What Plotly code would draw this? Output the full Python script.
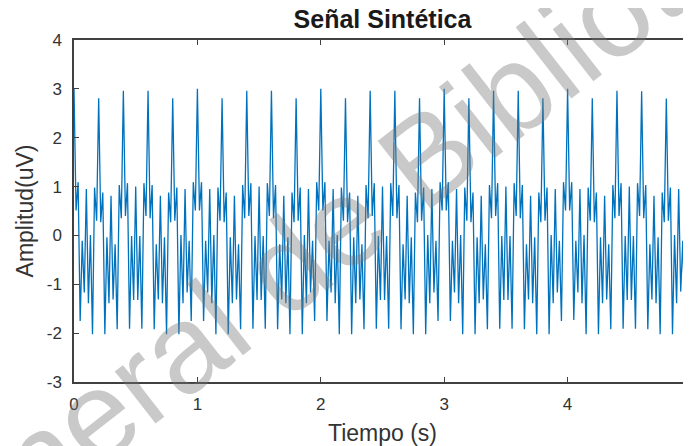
import plotly.graph_objects as go

# Sampling rate of the synthetic signal (Hz)
fs = 60

# Amplitude samples (uV), one second per list
segundo_1 = [3.00, 0.51, 1.09, -1.75, -0.11, -1.17, 0.95, -1.39, 0.01, -2.02,
             0.98, 0.30, 2.81, 0.27, 0.88, -2.02, -0.04, -1.39, 0.81, -1.31,
             -0.18, -1.92, 1.03, 0.35, 2.96, 0.40, 1.07, -1.91, -0.01, -1.32,
             1.00, -1.32, -0.01, -1.91, 1.07, 0.40, 2.96, 0.35, 1.03, -1.92,
             -0.18, -1.31, 0.81, -1.39, -0.04, -2.02, 0.88, 0.27, 2.81, 0.30,
             0.98, -2.02, 0.01, -1.39, 0.95, -1.17, -0.11, -1.75, 1.09, 0.51]
segundo_2 = [3.00, 0.51, 1.09, -1.75, -0.11, -1.17, 0.95, -1.39, 0.01, -2.02,
             0.98, 0.30, 2.81, 0.27, 0.88, -2.02, -0.04, -1.39, 0.81, -1.31,
             -0.18, -1.92, 1.03, 0.35, 2.96, 0.40, 1.07, -1.91, -0.01, -1.32,
             1.00, -1.32, -0.01, -1.91, 1.07, 0.40, 2.96, 0.35, 1.03, -1.92,
             -0.18, -1.31, 0.81, -1.39, -0.04, -2.02, 0.88, 0.27, 2.81, 0.30,
             0.98, -2.02, 0.01, -1.39, 0.95, -1.17, -0.11, -1.75, 1.09, 0.51]
segundo_3 = [3.00, 0.51, 1.09, -1.75, -0.11, -1.17, 0.95, -1.39, 0.01, -2.02,
             0.98, 0.30, 2.81, 0.27, 0.88, -2.02, -0.04, -1.39, 0.81, -1.31,
             -0.18, -1.92, 1.03, 0.35, 2.96, 0.40, 1.07, -1.91, -0.01, -1.32,
             1.00, -1.32, -0.01, -1.91, 1.07, 0.40, 2.96, 0.35, 1.03, -1.92,
             -0.18, -1.31, 0.81, -1.39, -0.04, -2.02, 0.88, 0.27, 2.81, 0.30,
             0.98, -2.02, 0.01, -1.39, 0.95, -1.17, -0.11, -1.75, 1.09, 0.51]
segundo_4 = [3.00, 0.51, 1.09, -1.75, -0.11, -1.17, 0.95, -1.39, 0.01, -2.02,
             0.98, 0.30, 2.81, 0.27, 0.88, -2.02, -0.04, -1.39, 0.81, -1.31,
             -0.18, -1.92, 1.03, 0.35, 2.96, 0.40, 1.07, -1.91, -0.01, -1.32,
             1.00, -1.32, -0.01, -1.91, 1.07, 0.40, 2.96, 0.35, 1.03, -1.92,
             -0.18, -1.31, 0.81, -1.39, -0.04, -2.02, 0.88, 0.27, 2.81, 0.30,
             0.98, -2.02, 0.01, -1.39, 0.95, -1.17, -0.11, -1.75, 1.09, 0.51]
segundo_5 = [3.00, 0.51, 1.09, -1.73, -0.11, -1.17, 0.95, -1.39, 0.01, -2.02,
             0.98, 0.30, 2.81, 0.27, 0.88, -2.02, -0.04, -1.39, 0.81, -1.31,
             -0.18, -1.92, 1.03, 0.35, 2.96, 0.40, 1.07, -1.91, -0.01, -1.32,
             1.00, -1.32, -0.01, -1.91, 1.07, 0.40, 2.95, 0.35, 1.03, -1.92,
             -0.18, -1.31, 0.81, -1.39, -0.04, -2.02, 0.88, 0.27, 2.80, 0.30,
             0.98, -2.02, 0.01, -1.39, 0.95, -1.15, -0.11, -1.73, 1.09, 0.47]
ultimo = [3.00]

amplitud = segundo_1 + segundo_2 + segundo_3 + segundo_4 + segundo_5 + ultimo
tiempo = [n / fs for n in range(len(amplitud))]

x_ticks = [0, 1, 2, 3, 4, 5]
x_tick_labels = ["0", "1", "2", "3", "4", "5"]
y_ticks = [-3, -2, -1, 0, 1, 2, 3, 4]
y_tick_labels = ["-3", "-2", "-1", "0", "1", "2", "3", "4"]

titulo = "Señal Sintética"
etiqueta_x = "Tiempo (s)"
etiqueta_y = "Amplitud(uV)"
marca_agua = "Dirección General de Bibliotecas"

FONT = "Liberation Sans"
AX = "#404040"
TXT = "#333333"

fig = go.Figure()
fig.add_trace(go.Scatter(x=tiempo, y=amplitud, mode="lines",
                         line=dict(color="#0072BD", width=1.3),
                         hoverinfo="skip"))

# The page body has an 8 px margin; the plot box runs just past the right window edge
fig.update_layout(
    width=685, height=438,
    margin=dict(l=66, r=0, t=32, b=64, pad=0),
    paper_bgcolor="white", plot_bgcolor="white",
    showlegend=False,
    font=dict(family=FONT, color=TXT),
    title=dict(text="<b>" + titulo + "</b>", x=0.5, xref="paper", xanchor="center",
               y=1 - 11 / 438, yref="container", yanchor="middle",
               font=dict(family=FONT, size=25, color="#1a1a1a")),
)

fig.update_xaxes(
    range=[0, 5], tickvals=x_ticks, ticktext=x_tick_labels,
    ticks="inside", ticklen=5, tickwidth=1, tickcolor=AX,
    showline=True, linecolor=AX, linewidth=1.5, mirror="ticks",
    showgrid=False, zeroline=False,
    tickfont=dict(family=FONT, size=17, color=TXT),
    ticklabelstandoff=6,
    title=dict(text=etiqueta_x, font=dict(family=FONT, size=23, color=TXT), standoff=12),
)
fig.update_yaxes(
    range=[-3, 4], tickvals=y_ticks, ticktext=y_tick_labels,
    ticks="inside", ticklen=5, tickwidth=1, tickcolor=AX,
    showline=True, linecolor=AX, linewidth=1.5, mirror="ticks",
    showgrid=False, zeroline=False,
    tickfont=dict(family=FONT, size=17, color=TXT),
    ticklabelstandoff=7,
    title=dict(text=etiqueta_y, font=dict(family=FONT, size=23, color=TXT), standoff=7),
)

# Watermark
fig.add_annotation(x=0.136, y=0.044, xref="paper", yref="paper",
                   xanchor="center", yanchor="middle",
                   text=marca_agua, textangle=-38, showarrow=False,
                   font=dict(family=FONT, size=125, color="rgba(120,120,120,0.4)"))

fig.write_html("out.html")
